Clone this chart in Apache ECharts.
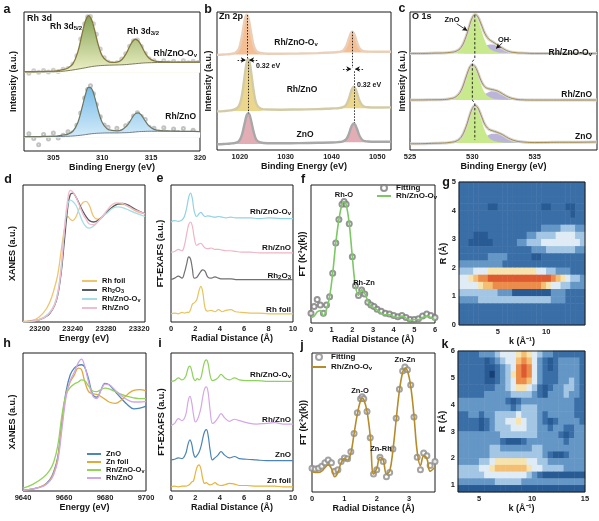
<!DOCTYPE html>
<html>
<head>
<meta charset="utf-8">
<title>Rh/ZnO-Ov XPS and XAFS</title>
<script src="https://cdn.jsdelivr.net/npm/echarts@6.0.0/dist/echarts.min.js"></script>
<style>
  html, body { margin: 0; padding: 0; background: #fff; }
  #chart { width: 599px; height: 521px; }
</style>
</head>
<body>
<div id="chart"></div>
<script>
// all spectra panels use a 0-100 vertical scale (= frame height)

// ---- a : Rh 3d ----
var aX      = [302,303,304,305,305.5,306,306.5,307,307.5,308,308.3,308.6,308.9,309.2,309.6,310,310.5,311,311.5,312,312.5,312.8,313.1,313.4,313.7,314,314.4,314.8,315.3,316,317,318,319,320];
var aBgOv   = [57,57,57,57,57.2,57.4,57.8,58.3,58.9,59.5,59.9,60.3,60.7,61.0,61.3,61.5,61.7,61.8,61.9,62.0,62.2,62.4,62.6,62.8,63.0,63.2,63.4,63.5,63.6,63.7,63.8,63.8,63.9,63.9];
var aFitOv  = [57,57,57.2,57.4,57.9,58.5,59.7,62.7,71.1,86.1,93.9,97.3,94.7,87.6,76.3,68.4,64.7,63.7,63.9,65.7,70.7,75.2,78.8,80.4,79.1,75.8,70.4,66.7,64.8,64.2,64.0,63.9,63.9,63.9];
var aBgZn   = [10.3,10.3,10.3,10.4,10.4,10.5,10.6,10.8,11.1,11.5,11.8,12.1,12.4,12.6,12.8,12.9,13.0,13.0,13.0,13.1,13.2,13.3,13.5,13.7,13.9,14.0,14.1,14.2,14.2,14.2,14.2,14.1,14.1,14.0];
var aFitZn  = [10.3,10.3,10.5,10.7,10.9,11.5,12.1,14.2,20.3,32.9,41.0,45.8,45.0,39.5,28.8,20.5,15.9,14.8,14.5,15.2,18.0,20.8,24.3,26.9,27.5,25.8,21.6,17.9,15.6,14.7,14.4,14.2,14.1,14.0];
var aDotX   = [302.5,303,303.5,304,304.5,305,305.5,306,306.5,307,307.4,307.8,308.2,308.5,308.8,309.1,309.4,309.8,310.2,310.6,311,311.5,312,312.4,312.8,313.2,313.6,314,314.4,314.8,315.3,315.8,316.3,316.8,317.3,317.8,318.3,318.8,319.3,319.8];
var aDotOv  = [56.0,57.8,56.6,57.9,56.8,58.1,57.2,58.9,59.4,62.4,68.5,80.5,91.5,96.5,96.8,91.6,84.0,73.4,67.0,64.1,63.0,63.5,66.2,70.0,75.4,79.3,79.8,75.2,70.2,66.4,64.9,63.2,64.9,63.5,64.6,63.1,65.0,63.4,64.6,63.6];
var aDotZn  = [12.5,9.0,4.5,11.8,8.6,12.9,9.4,11.3,13.8,13.2,18.5,27.4,38.2,44.3,46.9,41.2,33.5,24.6,18.7,17.0,13.1,16.4,13.9,18.2,19.8,25.1,27.5,24.8,22.6,17.1,16.4,13.2,16.8,12.6,15.9,13.1,16.2,11.8,15.0,12.4];

// ---- b : Zn 2p ----
var bX  = [1015,1016.5,1018,1019,1019.8,1020.4,1020.9,1021.2,1021.5,1021.8,1022.1,1022.5,1023,1023.6,1024.5,1026,1029,1033,1037,1040,1041.5,1042.5,1043.2,1043.8,1044.25,1044.55,1044.87,1045.2,1045.6,1046.2,1047,1048,1049.5,1051,1053];
var bOv = [68.9,69.2,69.6,70.5,73.4,81.9,91.7,96.3,98.0,96.4,91.8,84.3,75.9,71.7,70.3,69.8,69.8,69.9,70.2,70.6,71.0,72.0,75.1,80.8,84.7,85.7,84.7,82.0,77.8,73.4,71.6,71.3,71.2,71.2,71.2];
var bZn = [28.0,28.2,28.7,29.6,32.0,38.8,50.1,57.6,63.6,65.9,64.0,55.4,43.1,33.4,30.1,29.3,29.2,29.4,29.6,30.1,30.3,31.0,32.6,37.2,42.1,44.6,45.8,44.7,41.0,35.1,31.6,31.0,30.8,30.8,30.9];
var bO  = [4.2,4.4,4.7,5.2,6.5,10.6,17.3,21.8,25.4,26.7,25.6,20.6,13.2,7.4,5.5,4.9,4.9,5.0,5.2,5.4,5.7,6.3,7.7,11.6,16.1,18.2,19.2,18.2,15.0,9.8,6.7,6.2,6.0,6.0,6.0];

// ---- c : O 1s ----
var cX      = [525,526,527,527.6,528.2,528.7,529.1,529.5,529.8,530.0,530.2,530.4,530.7,531.0,531.3,531.6,532.0,532.4,532.9,533.5,534.2,535,536,537,538,540];
var cFitOv  = [70,70,70.2,70.3,70.7,71.6,74.3,82.2,91.0,95.9,98.1,97.2,91.3,84.6,80.5,78.6,76.2,73.8,71.5,70.5,70.2,70,70,70,70,70];
var cMainOv = [70,70,70.2,70.3,70.7,71.6,74.2,81.9,90.4,94.9,96.5,94.9,87.5,79.3,74.2,72.1,70.9,70.5,70.3,70.2,70.1,70,70,70,70,70];
var cOhOv   = [70,70,70,70,70,70,70.1,70.3,70.6,71.0,71.6,72.3,73.8,75.3,76.3,76.5,75.3,73.3,71.2,70.3,70.1,70,70,70,70,70];
var cFitZn  = [36.2,36.3,36.4,36.5,37.1,38.7,43.1,52.9,60.1,61.8,60.7,57.1,50.2,45.8,44.4,43.8,42.8,40.8,38.3,36.8,36.3,36.2,36.2,36.2,36.2,36.2];
var cMainZn = [36.2,36.3,36.4,36.5,37.1,38.7,43.0,52.7,59.7,61.2,59.7,55.5,47.5,41.5,38.7,37.4,36.8,36.5,36.4,36.3,36.2,36.2,36.2,36.2,36.2,36.2];
var cOhZn   = [36.2,36.2,36.2,36.2,36.2,36.2,36.3,36.4,36.6,36.8,37.2,37.8,38.9,40.5,41.9,42.6,42.2,40.5,38.1,36.7,36.3,36.2,36.2,36.2,36.2,36.2];
var cFitO   = [4.5,4.6,4.9,5.0,5.5,6.4,9.2,16.9,25.4,30.1,32.2,31.2,25.2,18.6,15.2,14.0,12.8,11.2,8.5,6.5,5.7,5.4,5.5,5.6,5.6,5.8];
var cMainO  = [5,5,5.2,5.3,5.7,6.6,9.2,16.7,25.0,29.4,31.0,29.4,22.2,14.1,9.2,7.1,5.9,5.5,5.3,5.2,5.1,5,5,5,5,5];
var cOhO    = [5,5,5,5,5,5,5.1,5.3,5.5,5.7,6.2,6.8,8.0,9.5,10.9,11.8,11.8,10.5,8.0,6.0,5.3,5,5,5,5,5];
var cGuideX = [530.2,530.2,530.0,530.0,530.2,530.2];
var cGuideY = [97.8,66.4,64,36.2,33.8,7.2];

// ---- d : Rh K-edge XANES ----
var dE     = [23180,23195,23205,23212,23218,23222,23226,23230,23234,23237,23240,23244,23248,23252,23256,23260,23265,23270,23276,23282,23288,23294,23300,23308,23316,23327];
var dFoil  = [0.5,2,7,14,25,35,52,68,77,75,74,77,83,87,88,85,77,75,77,81,84,86,86,84,81,79];
var dRh2O3 = [0,1,3,6,12,20,36,60,84,93,94,91,86,81,77,74,73,74,77,81,84,86,86.5,85,82,79];
var dOv    = [0,1,3.5,7,13,22,40,68,86,89,88,85,79,73,69.5,68.5,70,73,77,80,83,84,83.5,81.5,79.5,77];
var dZn    = [0,1,3,6.5,12.5,21,39,68,90,96,95,91,85,79,75,71.5,71,73,77.5,82,86,87,86.5,84,81.5,79];

// ---- e : Rh K-edge FT-EXAFS ----
var eR     = [0,0.3,0.6,0.9,1.1,1.3,1.45,1.6,1.75,1.9,2.1,2.3,2.45,2.6,2.8,3.0,3.3,3.6,3.9,4.2,4.5,4.9,5.3,5.8,6.5,7.2,8,9,10];
var eOv    = [73,74,73.5,74.5,77,84,91,94,90,81,77,79,80,78.5,77,77.5,77,76.5,77,76.5,76,76.5,76,76,76,75.5,76,75.5,75.5];
var eZn    = [51,51.5,53,52,56,65,71,73,70,62,56,57,57.5,56,54,53.5,54,53,53,52.5,52,52,51.5,51,51,50.5,50.5,50.5,50.5];
var eRh2O3 = [31,32,33.5,32,36,43,47.5,46,39,32,32.5,35,37,38,37,33,32,33,32,31.5,31.5,31.5,31,31,31,31,31,31,31];
var eFoil  = [6,6.5,6,7,6.5,7,7,9,13,14,16,23,26,22,10,8,8.5,7.5,9,7.5,8.5,9,7.5,7,6.5,6.5,6,6,6];

// ---- f : Rh/ZnO-Ov R-space fit ----
var fR    = [0,0.15,0.3,0.45,0.6,0.75,0.9,1.05,1.2,1.35,1.5,1.6,1.7,1.85,2.0,2.15,2.3,2.45,2.6,2.75,2.9,3.05,3.2,3.4,3.6,3.8,4.0,4.2,4.4,4.6,4.8,5.0,5.2,5.4,5.6,5.8,6.0];
var fFit  = [7,12,17,13,7,13,19,36,58,75,86,88,86,72,48,27,20,24,21,15,13,12,10,8.5,7,6.5,5.5,4.5,5.5,4,2.5,2.5,3,5,6.5,5.5,4];
var fLine = [4,5,8,9,5,10,19,36,58,75,86,88,86,72,48,27,20,24,21.5,16,12,11,9.5,7,6,6,4.5,4,5,3.5,2,2.5,2.5,4,5,4,2];

// ---- g : Rh K-edge wavelet (k 1-14 by 0.5, R 5->0 by 0.25, level 0-9) ----
var gRows = [
  '22222222222222222222222222',
  '22222222222222222222222222',
  '22222222222222222222222222',
  '22222211222222222112221122',
  '22222222222222222222222122',
  '22222222222222222222222222',
  '22222222222222222333344433',
  '22211122222222334444555544',
  '22111112222233444555555554',
  '22222222222222233344444433',
  '22222233332222211222222222',
  '33333333322222222222222222',
  '44455566666666665544333222',
  '55678899999999999998765443',
  '55556778888888888765544333',
  '44444444333111111113332222',
  '33334444444444444443332222',
  '22222222222222222222222222',
  '22222222222222222222222222',
  '22222222222222222222222222'
];

// ---- h : Zn K-edge XANES ----
var hE    = [9640,9645,9650,9653,9655,9657,9659,9661,9663,9665,9667,9668.5,9670,9672,9674,9676,9678,9680,9682,9685,9688,9691,9694,9697,9700];
var hZnO  = [0.5,1.5,4,8,14,25,50,72,84,89,91,91.5,90,81,70,68,73,78,77,72,67,62.5,59.5,60,61.5];
var hFoil = [0.5,1.5,4,7.5,13,24,48,70,79,84,89,88,80,72,70.5,70,68.5,66.5,64.5,63.5,66,70,73,73.5,72.5];
var hOv   = [2,5,10,15,21,33,55,70,75,77.5,79,80.5,80,76,72.5,72,73.5,74.5,74,72,70,68.5,67.5,67,67];
var hZn   = [0.5,1.5,3.5,7,12,22,45,68,80,86,93,95.5,91,79,69,67,73,77.5,77,73,69,66,64.5,64.5,65];

// ---- i : Zn K-edge FT-EXAFS ----
var iR    = [0,0.3,0.6,0.9,1.2,1.4,1.55,1.7,1.85,2.0,2.15,2.3,2.45,2.6,2.75,2.9,3.05,3.2,3.4,3.6,3.85,4.1,4.4,4.8,5.2,5.6,6.2,7,7.8,8.5,9.2,10];
var iOv   = [79.5,80,82,80.5,83,89,90.5,87,81.5,80,81.5,80.5,82,88,93.5,95,92,84,80,80.5,82,84.5,82,80.5,82,80.5,80,80,79.5,79.5,79.5,79.5];
var iZn   = [47.5,49,52.5,51,55,65,68.5,64,55,50,51.5,55,60,68,74,75.5,71,59,49,50,53,56,53,50.5,52,51,49.5,48.5,49,49.5,48.5,48.5];
var iZnO  = [22.5,23,24,23.5,27,34,37,34,27,24.5,26,28,32,38,43,44.5,40,30,22.5,24,26,28.5,26,24,25,23.5,23,22.5,22,22,22,22];
var iFoil = [3,3.5,3,3.5,3.5,4,5,6.5,7.5,13,17.5,19,16,9,5.5,6,5,4.5,5,6,4.5,4,4.5,5.5,5,4,4,3.5,3.5,3.5,3,3];

// ---- j : Zn K-edge R-space fit ----
var jR    = [0,0.1,0.2,0.3,0.4,0.5,0.6,0.7,0.8,0.9,1.0,1.1,1.2,1.3,1.4,1.5,1.55,1.6,1.7,1.8,1.9,2.0,2.1,2.2,2.3,2.4,2.5,2.6,2.7,2.8,2.87,2.95,3.05,3.15,3.25,3.35,3.45,3.55,3.65,3.8];
var jLine = [14.5,14,14,15,17.5,19.5,17,11,14,21,24,23,28,42,56,66,67.5,66.5,58,40,13,17,25,23,13,15,30,52,73,86,89,87,76,55,29,19,26,24,15,18];
var jFit  = [17,16.5,17,18.5,21,23,21,15,16,22,24.5,24,29,42,57,67,68.5,67,58,39,13,16,25,22,11,14,31,53,74,87,90,88,77,54,25,16,28,26,19,22];

// ---- k : Zn K-edge wavelet (k 3-15 by 0.5, R 6->0.75 by 0.25, level 0-9) ----
var kRows = [
  '222233345556765433222222',
  '222221234557875321233332',
  '222221123458985321233332',
  '222221023468985322233332',
  '222221123458875322233432',
  '222222233456654212334432',
  '222223333344443213334332',
  '333333333212333333333322',
  '333333333323444333333322',
  '223323344445444323333322',
  '222212344556544321233332',
  '222212344455544332332233',
  '333333334444444333321233',
  '333333332111233333332333',
  '333333443333334433333333',
  '333333444444444432112333',
  '333344566666655443333333',
  '444455677777765544443333',
  '444445555555543211111111',
  '333333344444333333333333',
  '111111111111111111111111'
];

var FF = "'Liberation Sans', Arial, sans-serif";
var INK = '#141414';
var HEAT = ['#163f75','#285a93','#3a6ea6','#6496c6','#a3c6e4','#e0ecf5','#f6e3ae','#f4bf72','#ec8c4a','#de5a30'];

function P(xs, ys) { return xs.map(function (x, i) { return [x, ys[i]]; }); }
function idx(n) { var a = []; for (var i = 0; i < n; i++) a.push(i); return a; }
function heat(rows) {
  var out = [], n = rows.length;
  rows.forEach(function (r, i) {
    for (var j = 0; j < r.length; j++) out.push([j, n - 1 - i, Number(r.charAt(j))]);
  });
  return out;
}

var frame = {show: true, borderColor: '#1b1b1b', borderWidth: 1, backgroundColor: 'transparent'};
function G(l, t, w, h, extra) {
  var g = {left: l, top: t, width: w, height: h};
  for (var k in (extra || frame)) g[k] = (extra || frame)[k];
  return g;
}
var grids = [
  G(24, 12, 176, 139), G(217, 12, 174, 138), G(410, 12, 187, 138),
  G(23, 185, 122, 137), G(171, 185, 122, 137), G(311, 185, 124, 138),
  G(459, 182, 126, 143, {show: false}), G(459, 182, 126, 143, {show: true, borderColor: '#1b1b1b', borderWidth: 1, z: 3}),
  G(23, 353, 123, 138), G(171, 353, 122, 138), G(312, 353, 123, 139),
  G(458, 351, 127, 141, {show: false}), G(458, 351, 127, 141, {show: true, borderColor: '#1b1b1b', borderWidth: 1, z: 3})
];

var labelStyle = {fontSize: 7.5, fontWeight: 'bold', color: '#222', fontFamily: FF};
var nameStyle = {fontSize: 9, fontWeight: 'bold', color: INK, fontFamily: FF};
function plain(v) { return String(v); }
function xAx(gi, min, max, ticks, name, gap) {
  return {type: 'value', gridIndex: gi, min: min, max: max,
    axisLine: {show: false}, splitLine: {show: false}, axisTick: {show: false},
    axisLabel: Object.assign({customValues: ticks, margin: 3, formatter: plain}, labelStyle),
    name: name, nameLocation: 'middle', nameGap: gap, nameTextStyle: nameStyle};
}
function yAx(gi, name, gap, min, max, ticks) {
  return {type: 'value', gridIndex: gi, min: min == null ? 0 : min, max: max == null ? 100 : max,
    axisLine: {show: false}, splitLine: {show: false}, axisTick: {show: false},
    axisLabel: ticks ? Object.assign({customValues: ticks, margin: 3, formatter: plain}, labelStyle) : {show: false},
    name: name, nameLocation: 'middle', nameGap: gap, nameTextStyle: nameStyle};
}
function cat(gi, n) { return {type: 'category', gridIndex: gi, data: idx(n), show: false}; }

var xAxes = [
  xAx(0, 302, 320, [305, 310, 315, 320], 'Binding Energy (eV)', 10),
  xAx(1, 1015, 1053, [1020, 1030, 1040, 1050], 'Binding Energy (eV)', 11),
  xAx(2, 525, 540, [525, 530, 535], 'Binding Energy (eV)', 10),
  xAx(3, 23180, 23327, [23200, 23240, 23280, 23320], 'Energy (eV)', 12),
  xAx(4, 0, 10, [0, 2, 4, 6, 8, 10], 'Radial Distance (Å)', 12),
  xAx(5, 0, 6, [0, 1, 2, 3, 4, 5, 6], 'Radial Distance (Å)', 11),
  cat(6, gRows[0].length),
  xAx(7, 1, 14, [5, 10], 'k (Å⁻¹)', 10),
  xAx(8, 9640, 9700, [9640, 9660, 9680, 9700], 'Energy (eV)', 11),
  xAx(9, 0, 10, [0, 2, 4, 6, 8, 10], 'Radial Distance (Å)', 11),
  xAx(10, 0, 3.8, [0, 1, 2, 3], 'Radial Distance (Å)', 10),
  cat(11, kRows[0].length),
  xAx(12, 3, 15, [5, 10, 15], 'k (Å⁻¹)', 10)
];
var yAxes = [
  yAx(0, 'Intensity (a.u.)', 6), yAx(1, 'Intensity (a.u.)', 4), yAx(2, 'Intensity (a.u.)', 3),
  yAx(3, 'XANES (a.u.)', 6), yAx(4, 'FT-EXAFS (a.u.)', 6), yAx(5, 'FT (K³χ(k))', 4),
  cat(6, gRows.length),
  yAx(7, 'R (Å)', 8, 0, 5, [0, 1, 2, 3, 4, 5]),
  yAx(8, 'XANES (a.u.)', 6), yAx(9, 'FT-EXAFS (a.u.)', 5), yAx(10, 'FT (K³χ(k))', 4),
  cat(11, kRows.length),
  yAx(12, 'R (Å)', 8, 0.75, 6, [1, 2, 3, 4, 5, 6])
];

function line(gi, data, color, width, extra) {
  var s = {type: 'line', xAxisIndex: gi, yAxisIndex: gi, data: data, symbol: 'none', smooth: 0.4,
    lineStyle: {color: color, width: width}, itemStyle: {color: color}, silent: true};
  for (var k in (extra || {})) s[k] = extra[k];
  return s;
}
function area(gi, data, color, origin) {
  return line(gi, data, color, 0, {areaStyle: {color: color, opacity: 1, origin: origin}});
}
function dots(gi, data, color, size, name) {
  return {type: 'scatter', name: name, xAxisIndex: gi, yAxisIndex: gi, data: data,
    symbol: 'emptyCircle', symbolSize: size, silent: true,
    itemStyle: {color: color, borderColor: color, borderWidth: 0.8}};
}
function grad(top, bottom) {
  return new echarts.graphic.LinearGradient(0, 0, 0, 1, [{offset: 0, color: top}, {offset: 1, color: bottom}]);
}
function seg(p, q, extra) {
  var a = {coord: p}, b = {coord: q};
  for (var k in (extra || {})) b[k] = extra[k];
  return [a, b];
}

var S = [];
// a
S.push(area(0, P(aX, aFitOv), grad('#86a257', '#eef2c6'), 56.5));
S.push(area(0, P(aX, aBgOv), '#ffffff', 56.5));
S.push(area(0, P(aX, aFitZn), grad('#79bde8', '#d3ebf9'), 9.8));
S.push(area(0, P(aX, aBgZn), '#ffffff', 9.8));
S.push(line(0, P(aX, aBgOv), '#6e6c47', 0.9));
S.push(line(0, P(aX, aFitOv), '#85783c', 1.3));
S.push(line(0, P(aX, aBgZn), '#5f7282', 0.9));
S.push(line(0, P(aX, aFitZn), '#6d7660', 1.2));
S.push(dots(0, P(aDotX, aDotOv), '#c2c2c2', 3));
S.push(dots(0, P(aDotX, aDotZn), '#b3b3b3', 3));

// b
var bSpec = [[bOv, '#f4bf94', '#ead0ba', 69.2, 70.6], [bZn, '#ecd68c', '#d3cba6', 28.3, 30.2], [bO, '#e2adb5', '#a8a8a8', 4.4, 5.6]];
bSpec.forEach(function (sp) {
  var d = P(bX, sp[0]);
  S.push(area(1, d.slice(2, 16), sp[1], sp[3]));
  S.push(area(1, d.slice(19, 33), sp[1], sp[4]));
});
bSpec.forEach(function (sp) { S.push(line(1, P(bX, sp[0]), sp[2], 2.4)); });
var arrowEnd = {symbol: 'arrow', symbolSize: [4, 5]};
S[S.length - 1].markLine = {
  silent: true, symbol: ['none', 'none'], label: {show: false},
  lineStyle: {color: INK, width: 0.9, type: [1.5, 1.5]},
  data: [
    seg([1021.5, 97.8], [1021.5, 66.4]), seg([1021.82, 64], [1021.82, 26.6]),
    seg([1044.55, 85.7], [1044.55, 59.4]), seg([1044.87, 57], [1044.87, 19.6]),
    seg([1019.5, 65.2], [1021.3, 65.2], arrowEnd), seg([1023.8, 65.2], [1022.0, 65.2], arrowEnd),
    seg([1042.5, 58.7], [1044.35, 58.7], arrowEnd), seg([1046.9, 58.7], [1045.1, 58.7], arrowEnd)
  ]
};

// c
var cSpec = [[cFitOv, cMainOv, cOhOv, 70], [cFitZn, cMainZn, cOhZn, 36.2], [cFitO, cMainO, cOhO, 5]];
cSpec.forEach(function (sp) {
  S.push(area(2, P(cX, sp[2]), '#bcb5da', sp[3]));
  S.push(area(2, P(cX, sp[1]), '#c8ea8c', sp[3]));
});
cSpec.forEach(function (sp) { S.push(line(2, P(cX, sp[0]), '#d6d6d6', 3)); });
cSpec.forEach(function (sp) { S.push(line(2, P(cX, sp[0]), '#a48c4c', 1)); });
S.push(line(2, P(cGuideX, cGuideY), INK, 0.9, {smooth: false, lineStyle: {color: INK, width: 0.9, type: [2.5, 2]},
  markLine: {silent: true, symbol: ['none', 'none'], label: {show: false}, lineStyle: {color: INK, width: 0.8, type: 'solid'},
    data: [seg([528.75, 91.5], [529.6, 86.5], arrowEnd), seg([532.4, 77.5], [531.9, 73.5], arrowEnd)]}}));

// d
S.push(line(3, P(dE, dFoil), '#efc46e', 1.3, {name: 'd1'}));
S.push(line(3, P(dE, dRh2O3), '#565b62', 1.3, {name: 'd2'}));
S.push(line(3, P(dE, dOv), '#a6dde8', 1.3, {name: 'd3'}));
S.push(line(3, P(dE, dZn), '#f3bccd', 1.3, {name: 'd4'}));

// e
S.push(line(4, P(eR, eOv), '#93d2e3', 1.2));
S.push(line(4, P(eR, eZn), '#f0b5c4', 1.2));
S.push(line(4, P(eR, eRh2O3), '#707070', 1.2));
S.push(line(4, P(eR, eFoil), '#e8c35e', 1.2));

// f
S.push(dots(5, P(fR, fFit), '#7a7a7a', 5, 'f1'));
S.push(line(5, P(fR, fLine), '#7dc866', 1.6, {name: 'f2'}));

// g
var gHeat = S.length;
S.push({type: 'heatmap', xAxisIndex: 6, yAxisIndex: 6, data: heat(gRows), silent: true, itemStyle: {borderWidth: 0}});

// h
S.push(line(8, P(hE, hZnO), '#4d86b8', 1.3, {name: 'h1'}));
S.push(line(8, P(hE, hFoil), '#e2a83a', 1.3, {name: 'h2'}));
S.push(line(8, P(hE, hOv), '#92d35a', 1.3, {name: 'h3'}));
S.push(line(8, P(hE, hZn), '#cfa6e8', 1.3, {name: 'h4'}));

// i
S.push(line(9, P(iR, iOv), '#8ed25c', 1.2));
S.push(line(9, P(iR, iZn), '#d3a8e6', 1.2));
S.push(line(9, P(iR, iZnO), '#4c84b6', 1.2));
S.push(line(9, P(iR, iFoil), '#e6b43e', 1.2));

// j
S.push(dots(10, P(jR, jFit), '#8c8c8c', 5, 'j1'));
S.push(line(10, P(jR, jLine), '#b48c2c', 1.6, {name: 'j2'}));

// k
var kHeat = S.length;
S.push({type: 'heatmap', xAxisIndex: 11, yAxisIndex: 11, data: heat(kRows), silent: true, itemStyle: {borderWidth: 0}});

var LEG = {
  d1: 'Rh foil', d2: 'Rh{s|2}O{s|3}', d3: 'Rh/ZnO-O{s|v}', d4: 'Rh/ZnO',
  f1: 'Fitting', f2: 'Rh/ZnO-O{s|v}',
  h1: 'ZnO', h2: 'Zn foil', h3: 'Rn/ZnO-O{s|v}', h4: 'Rh/ZnO',
  j1: 'Fitting', j2: 'Rh/ZnO-O{s|v}'
};
// line entries: hide the marker that the legend adds in the middle of the swatch
function lineItem(n) { return {name: n, itemStyle: {opacity: 0}}; }
function legend(items, left, top, size, gap, iw, ih) {
  return {data: items, left: left, top: top, orient: 'vertical', padding: 0, itemGap: gap,
    itemWidth: iw, itemHeight: ih, selectedMode: false,
    formatter: function (n) { return LEG[n]; },
    textStyle: {fontSize: size, fontWeight: 'bold', color: INK, fontFamily: FF,
      rich: {s: {fontSize: size - 2, fontWeight: 'bold', color: INK, fontFamily: FF, verticalAlign: 'bottom', lineHeight: 5}}}};
}

var RICH = {
  s: {fontSize: 6, fontWeight: 'bold', fontFamily: FF, fill: INK, verticalAlign: 'bottom', lineHeight: 5},
  p: {fontSize: 6, fontWeight: 'bold', fontFamily: FF, fill: INK, verticalAlign: 'top', lineHeight: 5}
};
function T(x, y, text, size, align) {
  return {type: 'text', x: x, y: y, silent: true, z: 100,
    style: {text: text, fill: INK, fontSize: size, fontWeight: 'bold', fontFamily: FF,
      textAlign: align || 'center', align: align || 'center',
      textVerticalAlign: 'middle', verticalAlign: 'middle', rich: RICH}};
}
var texts = [
  T(7, 10, 'a', 12.5), T(208, 10, 'b', 12.5), T(402, 9, 'c', 12.5),
  T(8, 180, 'd', 12.5), T(160, 179, 'e', 12.5), T(303, 180, 'f', 12.5), T(446, 183, 'g', 12.5),
  T(7, 344, 'h', 12.5), T(160, 344, 'i', 12.5), T(302, 346, 'j', 12.5), T(445, 345, 'k', 12.5),
  // a
  T(27, 19, 'Rh 3d', 9, 'left'), T(66, 27, 'Rh 3d{s|5/2}', 8.5), T(143, 32, 'Rh 3d{s|3/2}', 8.5),
  T(197, 54, 'Rh/ZnO-O{s|v}', 8.5, 'right'), T(196, 117, 'Rh/ZnO', 8.5, 'right'),
  // b
  T(219, 17, 'Zn 2p', 9, 'left'), T(296, 43, 'Rh/ZnO-O{s|v}', 8.5), T(302, 90, 'Rh/ZnO', 8.5), T(305, 135, 'ZnO', 8.5),
  T(256, 66, '0.32 eV', 7, 'left'), T(357, 85, '0.32 eV', 7, 'left'),
  // c
  T(412, 17, 'O 1s', 9, 'left'), T(452, 20, 'ZnO', 7.5), T(498, 40, 'OH{p|-}', 7.5, 'left'),
  T(592, 53, 'Rh/ZnO-O{s|v}', 8.5, 'right'), T(592, 95, 'Rh/ZnO', 8.5, 'right'), T(592, 137, 'ZnO', 8.5, 'right'),
  // e
  T(291, 212, 'Rh/ZnO-O{s|v}', 8, 'right'), T(291, 248, 'Rh/ZnO', 8, 'right'),
  T(291, 276, 'Rh{s|2}O{s|3}', 8, 'right'), T(291, 310, 'Rh foil', 8, 'right'),
  // f
  T(344, 195, 'Rh-O', 7.5), T(364, 283, 'Rh-Zn', 7.5),
  // i
  T(291, 375, 'Rh/ZnO-O{s|v}', 8, 'right'), T(291, 420, 'Rh/ZnO', 8, 'right'),
  T(291, 455, 'ZnO', 8, 'right'), T(291, 481, 'Zn foil', 8, 'right'),
  // j
  T(360, 391, 'Zn-O', 7.5), T(381, 449, 'Zn-Rh', 7.5), T(405, 360, 'Zn-Zn', 7.5)
];

var chart = echarts.init(document.getElementById('chart'));
chart.setOption({
  backgroundColor: '#ffffff',
  animation: false,
  textStyle: {fontFamily: FF},
  grid: grids,
  xAxis: xAxes,
  yAxis: yAxes,
  visualMap: {type: 'continuous', min: 0, max: 9, show: false, seriesIndex: [gHeat, kHeat], inRange: {color: HEAT}},
  legend: [
    legend(['d1', 'd2', 'd3', 'd4'].map(lineItem), 81, 277, 7.5, 1, 15, 8),
    legend(['f1', lineItem('f2')], 376, 184, 8, 0, 14, 6),
    legend(['h1', 'h2', 'h3', 'h4'].map(lineItem), 86, 450, 7.5, 0, 14, 8),
    legend(['j1', lineItem('j2')], 311, 353, 8, 2, 14, 6)
  ],
  graphic: {elements: texts},
  series: S
});
</script>
</body>
</html>
